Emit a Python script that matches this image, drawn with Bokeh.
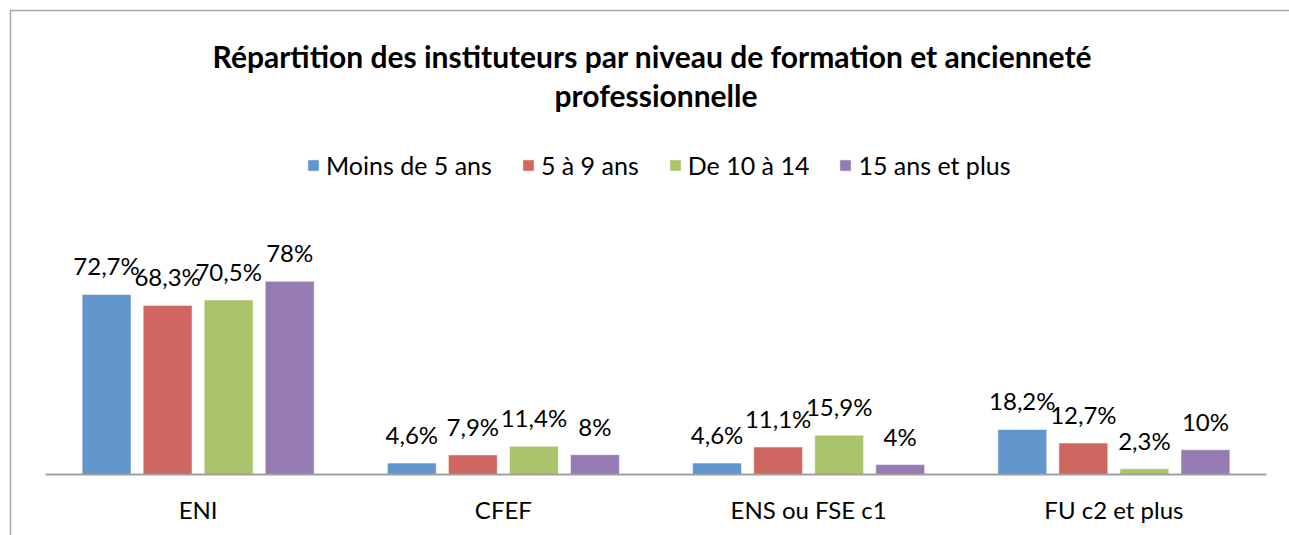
import numpy as np
from bokeh.plotting import figure
from bokeh.models import (Range1d, ColumnDataSource, LabelSet, Legend, LegendItem, Label)
from bokeh.core.properties import value
from bokeh.transform import dodge
from bokeh.embed import file_html
from bokeh.resources import INLINE

categories = ["ENI", "CFEF", "ENS ou FSE c1", "FU c2 et plus"]
series_names = ["Moins de 5 ans", "5 à 9 ans", "De 10 à 14", "15 ans et plus"]
moins_5 = [72.7, 4.6, 4.6, 18.2]
de_5_9 = [68.3, 7.9, 11.1, 12.7]
de_10_14 = [70.5, 11.4, 15.9, 2.3]
plus_15 = [78.0, 8.0, 4.0, 10.0]
label_moins_5 = ["72,7%", "4,6%", "4,6%", "18,2%"]
label_5_9 = ["68,3%", "7,9%", "11,1%", "12,7%"]
label_10_14 = ["70,5%", "11,4%", "15,9%", "2,3%"]
label_15 = ["78%", "8%", "4%", "10%"]
title_lines = ["Répartition  des instituteurs par niveau de formation et ancienneté",
               "professionnelle"]

colors = ["#6096CB", "#CF665F", "#ABC46C", "#957BB1"]
FONT = "Lato"
W, H = 1289, 535
# layout in canvas pixels
PLOT_LEFT, PLOT_RIGHT = 45, 1266      # baseline extent
BASE_Y = 474                          # baseline (from canvas top)
PX_PER_PCT = 2.476
px_per_cat = (PLOT_RIGHT - PLOT_LEFT) / len(categories)

x_start = -PLOT_LEFT / px_per_cat
x_end = (W - PLOT_LEFT) / px_per_cat
y_start = -(H - BASE_Y) / PX_PER_PCT
y_end = BASE_Y / PX_PER_PCT


def cy(canvas_y):
    return (BASE_Y - canvas_y) / PX_PER_PCT


def cx(canvas_x):
    return (canvas_x - PLOT_LEFT) / px_per_cat


p = figure(width=W, height=H, x_range=Range1d(x_start, x_end),
           y_range=Range1d(y_start, y_end), output_backend="svg", toolbar_location=None,
           title=None, min_border=0, x_axis_type=None, y_axis_type=None)
p.outline_line_color = None
p.xgrid.grid_line_color = None
p.ygrid.grid_line_color = None
p.border_fill_color = "white"
p.background_fill_color = "white"

# chart frame (left and top edges visible)
p.line(x=[cx(10), cx(10), x_end], y=[y_start, cy(10), cy(10)], line_color="#A6A6A6", line_width=1.5)

xpos = list(np.arange(len(categories)) + 0.5)
values = [moins_5, de_5_9, de_10_14, plus_15]
labels = [label_moins_5, label_5_9, label_10_14, label_15]
offsets = [-0.3, -0.1, 0.1, 0.3]
renderers = []
for vals, labs, off, col in zip(values, labels, offsets, colors):
    src = ColumnDataSource(dict(x=xpos, v=vals, lab=labs))
    r = p.vbar(x=dodge("x", off), top="v", width=0.16, source=src,
               fill_color=col, line_color="white", line_alpha=0.5, line_width=1)
    renderers.append(r)
    p.add_layout(LabelSet(x=dodge("x", off), y="v", text="lab",
                          source=src, text_align="center", text_baseline="alphabetic",
                          y_offset=19, text_font=value(FONT), text_font_size="24px",
                          text_color="#000000"))

# baseline (category axis line)
p.line(x=[0, len(categories)], y=[0, 0], line_color="#A0A0A0", line_width=2)
# category labels
p.text(x=xpos, y=[0] * len(categories), text=categories, text_align="center",
       text_baseline="alphabetic", y_offset=35, text_font=value(FONT),
       text_font_size="24px", text_color="#000000")

# title
p.add_layout(Label(x=len(categories) / 2, y=cy(55), text=title_lines[0], text_align="center",
                   text_baseline="alphabetic", text_font=FONT, text_font_size="30px",
                   text_font_style="bold", text_color="#000000"))
p.add_layout(Label(x=len(categories) / 2, y=cy(94), text=title_lines[1], text_align="center",
                   text_baseline="alphabetic", text_font=FONT, text_font_size="30px",
                   text_font_style="bold", text_color="#000000"))

legend = Legend(items=[LegendItem(label=n, renderers=[r]) for n, r in zip(series_names, renderers)],
                orientation="horizontal", location=(306, 355), label_text_font=FONT,
                label_text_font_size="25px", label_text_color="#000000",
                glyph_width=14, glyph_height=14,
                spacing=29, label_standoff=6, border_line_color=None, padding=0,
                margin=0, background_fill_alpha=0)
p.add_layout(legend, "center")

open("out.html", "w").write(file_html(p, INLINE))
